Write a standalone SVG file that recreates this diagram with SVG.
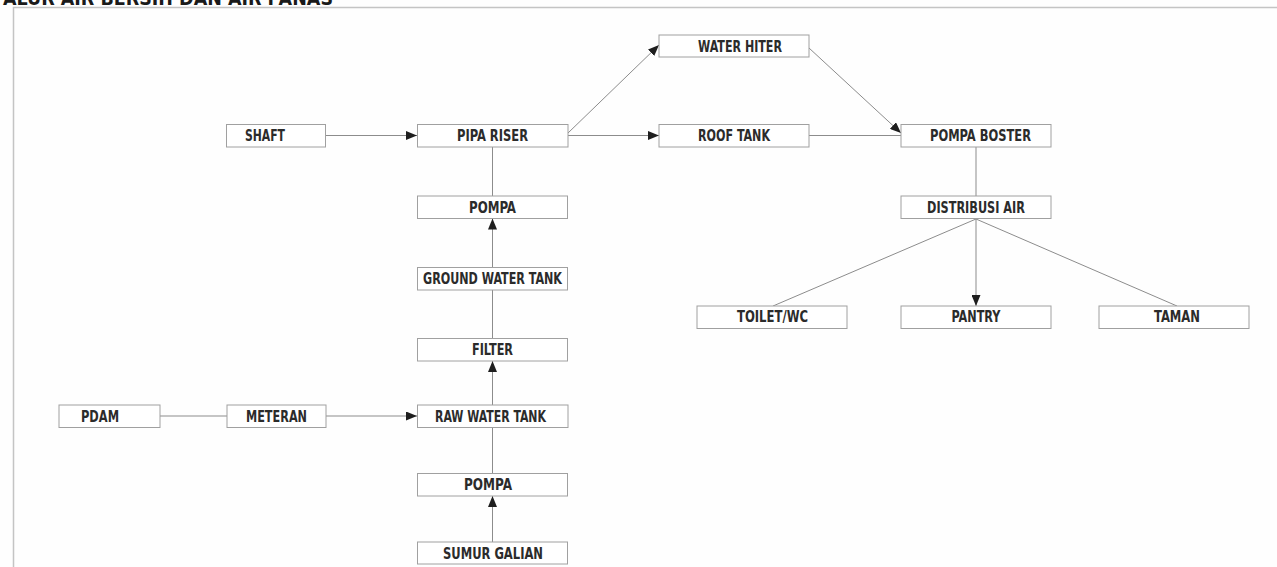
<svg xmlns="http://www.w3.org/2000/svg" width="1277" height="567" viewBox="0 0 1277 567">
<style>
.bg{fill:#fefefe}
.frame{stroke:#c4c4c4;stroke-width:1.5;fill:none}
.title{font-family:"Liberation Sans Narrow","DejaVu Sans Condensed","Liberation Sans",sans-serif;font-weight:bold;font-size:20px;fill:#1a1a1a}
.box{fill:#ffffff;stroke:#a0a0a0;stroke-width:1}
.lbl{font-family:"Liberation Sans Narrow","DejaVu Sans Condensed","Liberation Sans",sans-serif;font-weight:bold;font-size:15px;fill:#2b2b2b;text-anchor:middle}
.ln{stroke:#8c8c8c;stroke-width:1;fill:none}
.arr{marker-end:url(#ah)}
</style>
<defs>
<marker id="ah" markerUnits="userSpaceOnUse" markerWidth="11" markerHeight="9" viewBox="0 0 11 9" refX="11" refY="4.5" orient="auto">
<path d="M0,0 L11,4.5 L0,9 Z" fill="#1e1e1e"/>
</marker>
</defs>
<rect class="bg" x="0" y="0" width="1277" height="567"/>
<text class="title" x="3" y="4.7" textLength="330" lengthAdjust="spacingAndGlyphs">ALUR AIR BERSIH DAN AIR PANAS</text>
<path class="frame" d="M1277,7.5 H13.5 V567"/>

<g id="connectors">
<line class="ln arr" x1="326" y1="135.5" x2="417" y2="135.5"/>
<line class="ln arr" x1="568" y1="133" x2="659" y2="45"/>
<line class="ln arr" x1="568" y1="135.5" x2="659" y2="135.5"/>
<line class="ln" x1="809" y1="135.5" x2="901" y2="135.5"/>
<line class="ln arr" x1="809" y1="48" x2="901" y2="133"/>
<line class="ln" x1="976" y1="147" x2="976" y2="196"/>
<line class="ln" x1="976" y1="219" x2="773" y2="306"/>
<line class="ln arr" x1="976" y1="219" x2="976" y2="306"/>
<line class="ln" x1="976" y1="219" x2="1177" y2="306"/>
<line class="ln" x1="492.5" y1="147" x2="492.5" y2="196"/>
<line class="ln arr" x1="492.5" y1="267.5" x2="492.5" y2="218.5"/>
<line class="ln" x1="492.5" y1="290" x2="492.5" y2="338.5"/>
<line class="ln arr" x1="492.5" y1="405" x2="492.5" y2="361"/>
<line class="ln" x1="492.5" y1="427.5" x2="492.5" y2="473.5"/>
<line class="ln arr" x1="492.5" y1="542" x2="492.5" y2="496"/>
<line class="ln" x1="160" y1="416" x2="227" y2="416"/>
<line class="ln arr" x1="326" y1="416" x2="417" y2="416"/>
</g>

<g id="shaft"><rect class="box" x="226.5" y="124.5" width="99" height="22.5"/><text class="lbl" x="265" y="141" textLength="40" lengthAdjust="spacingAndGlyphs">SHAFT</text></g>
<g id="pipa-riser"><rect class="box" x="417.5" y="124.5" width="150.5" height="22.5"/><text class="lbl" x="492.5" y="141" textLength="71" lengthAdjust="spacingAndGlyphs">PIPA RISER</text></g>
<g id="water-hiter"><rect class="box" x="659" y="35" width="150" height="22"/><text class="lbl" x="740" y="51.5" textLength="84" lengthAdjust="spacingAndGlyphs">WATER HITER</text></g>
<g id="roof-tank"><rect class="box" x="659" y="124.5" width="150" height="22.5"/><text class="lbl" x="734" y="141" textLength="72" lengthAdjust="spacingAndGlyphs">ROOF TANK</text></g>
<g id="pompa-boster"><rect class="box" x="901" y="124.5" width="150" height="22.5"/><text class="lbl" x="980.5" y="141" textLength="101" lengthAdjust="spacingAndGlyphs">POMPA BOSTER</text></g>
<g id="distribusi-air"><rect class="box" x="901" y="196" width="150" height="22.5"/><text class="lbl" x="976" y="212.5" textLength="98" lengthAdjust="spacingAndGlyphs">DISTRIBUSI AIR</text></g>
<g id="toilet-wc"><rect class="box" x="697" y="306" width="150" height="22.5"/><text class="lbl" x="772.5" y="322" textLength="71" lengthAdjust="spacingAndGlyphs">TOILET/WC</text></g>
<g id="pantry"><rect class="box" x="901" y="306" width="150" height="22.5"/><text class="lbl" x="976" y="322" textLength="49" lengthAdjust="spacingAndGlyphs">PANTRY</text></g>
<g id="taman"><rect class="box" x="1099" y="306" width="150" height="22.5"/><text class="lbl" x="1177" y="322" textLength="46" lengthAdjust="spacingAndGlyphs">TAMAN</text></g>
<g id="pompa-1"><rect class="box" x="417.5" y="196" width="150" height="22.5"/><text class="lbl" x="492.5" y="212.5" textLength="47" lengthAdjust="spacingAndGlyphs">POMPA</text></g>
<g id="ground-water-tank"><rect class="box" x="417.5" y="267.5" width="150" height="22.5"/><text class="lbl" x="492.5" y="284" textLength="139" lengthAdjust="spacingAndGlyphs">GROUND WATER TANK</text></g>
<g id="filter"><rect class="box" x="417.5" y="338.5" width="150" height="22.5"/><text class="lbl" x="492.5" y="355" textLength="41" lengthAdjust="spacingAndGlyphs">FILTER</text></g>
<g id="pdam"><rect class="box" x="59" y="405" width="101" height="22.5"/><text class="lbl" x="100" y="421.5" textLength="38" lengthAdjust="spacingAndGlyphs">PDAM</text></g>
<g id="meteran"><rect class="box" x="227" y="405" width="99" height="22.5"/><text class="lbl" x="276.5" y="421.5" textLength="61" lengthAdjust="spacingAndGlyphs">METERAN</text></g>
<g id="raw-water-tank"><rect class="box" x="417.5" y="405" width="150.5" height="22.5"/><text class="lbl" x="490.5" y="421.5" textLength="111" lengthAdjust="spacingAndGlyphs">RAW WATER TANK</text></g>
<g id="pompa-2"><rect class="box" x="417.5" y="473.5" width="150" height="22.5"/><text class="lbl" x="488" y="490" textLength="48" lengthAdjust="spacingAndGlyphs">POMPA</text></g>
<g id="sumur-galian"><rect class="box" x="417.5" y="542" width="150" height="22"/><text class="lbl" x="493" y="558.5" textLength="100" lengthAdjust="spacingAndGlyphs">SUMUR GALIAN</text></g>
</svg>
